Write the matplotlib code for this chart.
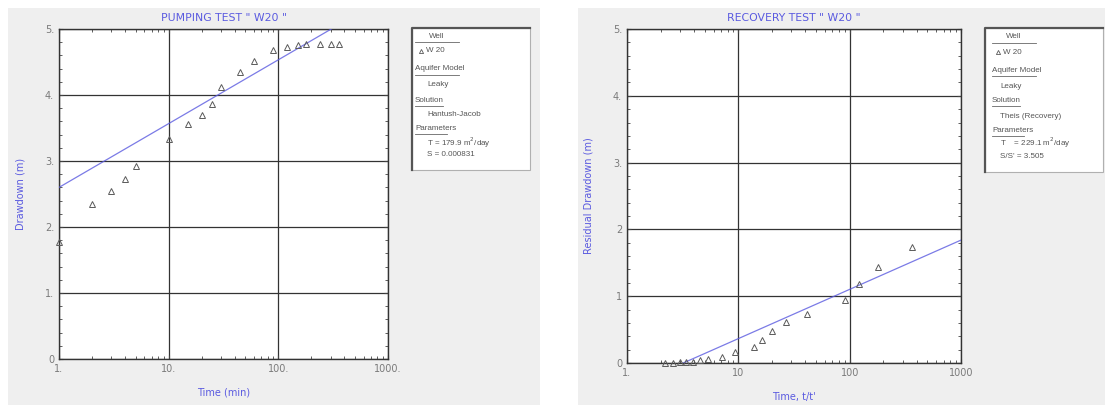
import numpy as np
import matplotlib.pyplot as plt
from matplotlib.patches import Rectangle
from matplotlib.lines import Line2D
from matplotlib.ticker import FixedLocator, LogLocator, MultipleLocator

# pumping test data (time in min, drawdown in m)
pump_t = [1, 2, 3, 4, 5, 10, 15, 20, 25, 30, 45, 60, 90, 120, 150, 180, 240, 300, 360]
pump_s = [1.78, 2.35, 2.55, 2.72, 2.92, 3.34, 3.56, 3.70, 3.87, 4.12, 4.35, 4.52,
          4.68, 4.73, 4.76, 4.77, 4.77, 4.77, 4.77]
pump_fit_t = [1, 1000]
pump_fit_s = [2.6, 5.5]

# recovery test data (t/t', residual drawdown in m)
rec_t = [2.2, 2.6, 3.0, 3.4, 3.9, 4.5, 5.3, 7.1, 9.3, 13.8, 16.2, 20.2, 26.8, 41.7,
         91, 121, 181, 361]
rec_s = [0.0, 0.0, 0.01, 0.01, 0.02, 0.04, 0.06, 0.09, 0.17, 0.24, 0.34, 0.48, 0.62,
         0.73, 0.95, 1.18, 1.43, 1.73]
rec_fit_t = [3.2, 1000]
rec_fit_s = [0.0, 1.84]

x_ticks = [1, 10, 100, 1000]
y_ticks = [0, 1, 2, 3, 4, 5]
pump_xlabels = ['1.', '10.', '100.', '1000.']
pump_ylabels = ['0', '1.', '2.', '3.', '4.', '5.']
rec_xlabels = ['1.', '10', '100', '1000']
rec_ylabels = ['0', '1', '2', '3.', '4.', '5.']

pump_legend = ["Well", "W 20", "Aquifer Model", "Leaky", "Solution", "Hantush-Jacob",
               "Parameters", "T = 179.9 m$^2$/day", "S = 0.000831"]
rec_legend = ["Well", "W 20", "Aquifer Model", "Leaky", "Solution", "Theis (Recovery)",
              "Parameters", "T    = 229.1 m$^2$/day", "S/S' = 3.505"]

W, H = 1105, 405
BLUE = '#5a5ae0'
GRAY = '#7a7a7a'
BG = '#efefef'
LEG_FONT = ['Liberation Sans', 'DejaVu Sans']

fig = plt.figure(figsize=(W / 100, H / 100), dpi=100)
fig.patch.set_facecolor('white')


def fx(px):
    return px / W


def fy(py):
    return 1 - py / H


# grey window backgrounds
for x0, x1 in [(8, 540), (578, 1105)]:
    fig.add_artist(Rectangle((fx(x0), 0), fx(x1) - fx(x0), fy(8), transform=fig.transFigure,
                             facecolor=BG, edgecolor='none', zorder=0))


def draw_panel(rect, t, s, ft, fs, title, xlab, ylab, xlabels, ylabels):
    ax = fig.add_axes(rect)
    ax.set_xscale('log')
    ax.set_xlim(1, 1000)
    ax.set_ylim(0, 5)
    ax.plot(ft, fs, color=BLUE, lw=0.9, alpha=0.8, zorder=3)
    ax.plot(t, s, linestyle='none', marker='^', markersize=4, markerfacecolor='none',
            markeredgecolor='#5a5a5a', markeredgewidth=0.7, zorder=4, clip_on=False)
    ax.xaxis.set_major_locator(FixedLocator(x_ticks))
    ax.set_xticklabels(xlabels)
    ax.xaxis.set_minor_locator(LogLocator(base=10, subs=np.arange(2, 10)))
    ax.xaxis.set_minor_formatter(plt.NullFormatter())
    ax.set_yticks(y_ticks)
    ax.set_yticklabels(ylabels)
    ax.yaxis.set_minor_locator(MultipleLocator(0.2))
    ax.grid(True, which='major', color='#333333', lw=0.9)
    ax.tick_params(which='both', direction='in', top=True, right=True,
                   labelsize=7, labelcolor=GRAY, color='#444444')
    ax.tick_params(which='major', length=3)
    ax.tick_params(which='minor', length=2)
    for sp in ax.spines.values():
        sp.set_color('#333333')
        sp.set_linewidth(1.0)
    ax.set_title(title, fontsize=7.8, color=BLUE, pad=6)
    ax.set_xlabel(xlab, fontsize=7, color=BLUE, labelpad=10)
    ax.set_ylabel(ylab, fontsize=7, color=BLUE, labelpad=14)
    ax.set_facecolor('white')
    return ax


draw_panel([fx(59), fy(359), fx(388) - fx(59), fy(29) - fy(359)],
           pump_t, pump_s, pump_fit_t, pump_fit_s,
           'PUMPING TEST " W20 "', 'Time (min)', 'Drawdown (m)',
           pump_xlabels, pump_ylabels)
draw_panel([fx(627), fy(363), fx(961) - fx(627), fy(29) - fy(363)],
           rec_t, rec_s, rec_fit_t, rec_fit_s,
           'RECOVERY TEST " W20 "', "Time, t/t'", 'Residual Drawdown (m)',
           rec_xlabels, rec_ylabels)


def draw_legend(x0, x1, y0, y1, lines, xh, xv, rows, ul_w):
    fig.add_artist(Rectangle((fx(x0), fy(y1)), fx(x1) - fx(x0), fy(y0) - fy(y1),
                             transform=fig.transFigure, facecolor='white',
                             edgecolor='#b0b0b0', lw=0.8, zorder=1))
    # 3d-looking top and left edge
    fig.add_artist(Line2D([fx(x0), fx(x0), fx(x1)], [fy(y1), fy(y0), fy(y0)],
                          transform=fig.transFigure, color='#555555', lw=1.6, zorder=2))
    for i, (txt, py) in enumerate(zip(lines, rows)):
        header = i in (0, 2, 4, 6)
        if i == 0:
            x = xh + 14
        elif header:
            x = xh
        else:
            x = xv
        if i == 1:
            fig.add_artist(Line2D([fx(xh + 6)], [fy(py)], transform=fig.transFigure,
                                  marker='^', markersize=3, markerfacecolor='none',
                                  markeredgecolor='#5a5a5a', markeredgewidth=0.6,
                                  linestyle='none', zorder=3))
            x = xh + 11
        fig.text(fx(x), fy(py), txt, fontsize=5.8, family=LEG_FONT, color='#555555',
                 va='center', ha='left', zorder=3)
        if header:
            w = ul_w[i // 2]
            fig.add_artist(Line2D([fx(xh), fx(xh + w)], [fy(py + 6), fy(py + 6)],
                                  transform=fig.transFigure, color='#666666', lw=0.6,
                                  zorder=3))


draw_legend(412, 530, 28, 170, pump_legend, 415, 427,
            [36, 51, 69, 85, 100, 114, 128, 143, 155], [44, 44, 28, 32])
draw_legend(985, 1103, 28, 172, rec_legend, 992, 1000,
            [37, 52, 70, 87, 100, 116, 130, 143, 156], [44, 44, 28, 32])

fig.savefig('out.png', dpi=100)
